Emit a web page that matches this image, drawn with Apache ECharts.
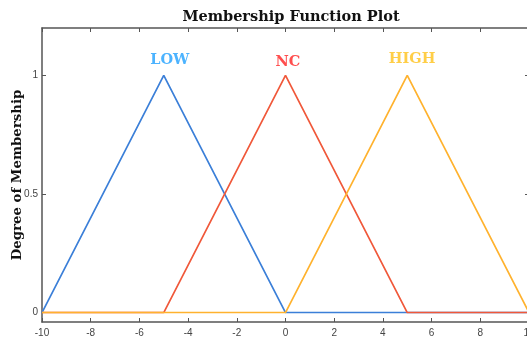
<!DOCTYPE html>
<html>
<head>
<meta charset="utf-8">
<script src="https://cdn.jsdelivr.net/npm/echarts@6/dist/echarts.min.js"></script>
<style>
  html, body { margin: 0; padding: 0; background: #fff; }
  #chart { width: 527px; height: 342px; }
</style>
</head>
<body>
<div id="chart"></div>
<script>
// Input variable range and triangular membership functions (corner points)
const xRange = [-10, 10];
const lowPoints  = [[-10, 0], [-5, 1], [0, 0], [10, 0]];
const ncPoints   = [[-10, 0], [-5, 0], [0, 1], [5, 0], [10, 0]];
const highPoints = [[-10, 0], [0, 0], [5, 1], [10, 0]];

// Membership function names and where their labels sit
const mfNames = ['LOW', 'NC', 'HIGH'];
const labelX = [-4.75, 0.1, 5.2];
const labelY = [1.066, 1.057, 1.068];

// Axis ticks
const yTicks = [0, 0.5, 1];

const lineColors = ['#3b7fd8', '#f0583a', '#ffb22e'];
const labelColors = ['#1fa0ff', '#ff2222', '#ffc21a'];

const axisColor = '#555';
const tickFont = { fontFamily: 'Liberation Sans, Arial, sans-serif', fontSize: 10, color: '#444' };
const serifBold = 'DejaVu Serif, serif';

const chart = echarts.init(document.getElementById('chart'), null, { renderer: 'canvas' });

function lineSeries(name, pts, color) {
  return {
    name: name,
    type: 'line',
    data: pts,
    symbol: 'none',
    lineStyle: { color: color, width: 1.7 },
    animation: false,
    z: 2
  };
}

chart.setOption({
  backgroundColor: '#fff',
  animation: false,
  title: {
    text: 'Membership Function Plot',
    left: 286,
    textAlign: 'center',
    top: 5,
    textStyle: { fontFamily: serifBold, fontWeight: 'bold', fontSize: 14.5, color: '#111' }
  },
  grid: { left: 42, right: -2, top: 28, bottom: 20, containLabel: false, outerBoundsMode: 'none' },
  xAxis: [
    {
      type: 'value', min: xRange[0], max: xRange[1], interval: 2, position: 'bottom',
      axisLine: { show: true, onZero: false, lineStyle: { color: axisColor, width: 1.5 } },
      axisTick: { show: true, inside: true, length: 4, lineStyle: { color: axisColor } },
      axisLabel: Object.assign({ margin: 6 }, tickFont),
      splitLine: { show: false }
    },
    {
      type: 'value', min: xRange[0], max: xRange[1], interval: 2, position: 'top',
      axisLine: { show: true, onZero: false, lineStyle: { color: axisColor, width: 1.5 } },
      axisTick: { show: true, inside: true, length: 4, lineStyle: { color: axisColor } },
      axisLabel: { show: false },
      splitLine: { show: false }
    }
  ],
  yAxis: [
    {
      type: 'value', min: -0.04, max: 1.2, position: 'left',
      name: 'Degree of Membership',
      nameLocation: 'middle',
      nameGap: 18,
      nameMoveOverlap: false,
      nameTextStyle: { fontFamily: serifBold, fontWeight: 'bold', fontSize: 13.3, color: '#111' },
      axisLine: { show: true, onZero: false, lineStyle: { color: axisColor, width: 1.5 } },
      axisTick: { show: true, inside: true, length: 4, customValues: yTicks, lineStyle: { color: axisColor } },
      axisLabel: Object.assign({ margin: 4, customValues: yTicks }, tickFont),
      splitLine: { show: false }
    },
    {
      type: 'value', min: -0.04, max: 1.2, position: 'right',
      axisLine: { show: true, onZero: false, lineStyle: { color: axisColor, width: 1.5 } },
      axisTick: { show: true, inside: true, length: 4, customValues: yTicks, lineStyle: { color: axisColor } },
      axisLabel: { show: false },
      splitLine: { show: false }
    }
  ],
  series: [
    lineSeries(mfNames[0], lowPoints, lineColors[0]),
    lineSeries(mfNames[1], ncPoints, lineColors[1]),
    lineSeries(mfNames[2], highPoints, lineColors[2]),
    {
      type: 'scatter',
      symbolSize: 0,
      animation: false,
      silent: true,
      data: mfNames.map((n, i) => ({
        value: [labelX[i], labelY[i]],
        label: {
          show: true,
          position: 'inside',
          formatter: n,
          fontFamily: serifBold,
          fontWeight: 'bold',
          fontSize: 14.5,
          color: labelColors[i]
        }
      }))
    }
  ]
});
</script>
</body>
</html>
